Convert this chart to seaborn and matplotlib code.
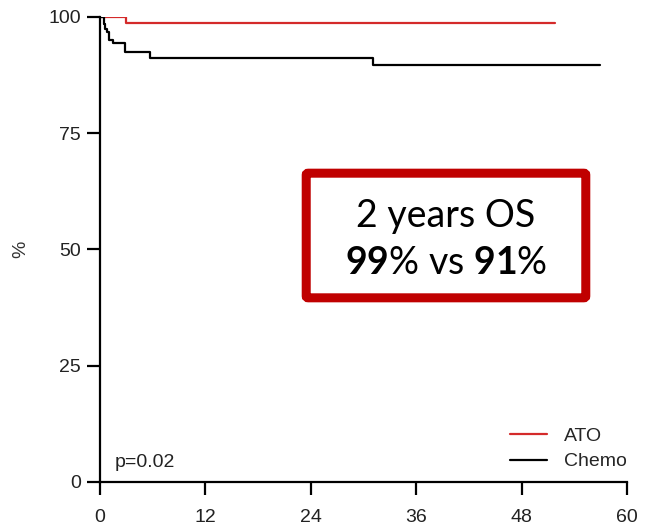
import matplotlib
matplotlib.use("Agg")
import matplotlib.pyplot as plt
import seaborn as sns
import pandas as pd
from matplotlib.patches import FancyBboxPatch

# Data
groups = ["ATO", "Chemo"]
ato_months = [0, 3.0, 51.8]
ato_surv = [100, 98.8, 98.8]
chemo_months = [0, 0.4, 0.6, 0.8, 1.0, 1.5, 2.85, 5.7, 31.1, 56.9]
chemo_surv = [100, 98.5, 97.5, 96.8, 95.1, 94.4, 92.5, 91.1, 89.7, 89.7]
x_ticks = [0, 12, 24, 36, 48, 60]
y_ticks = [0, 25, 50, 75, 100]
p_text = "p=0.02"

df = pd.concat([
    pd.DataFrame({"month": ato_months, "surv": ato_surv, "group": "ATO"}),
    pd.DataFrame({"month": chemo_months, "surv": chemo_surv, "group": "Chemo"}),
])

sns.set_theme(style="ticks")
plt.rcParams["font.family"] = ["Liberation Sans", "DejaVu Sans"]
plt.rcParams["mathtext.fontset"] = "custom"
plt.rcParams["mathtext.rm"] = "Lato"
plt.rcParams["mathtext.bf"] = "Lato:bold"

fig = plt.figure(figsize=(6.5, 5.27), dpi=100)
ax = fig.add_axes([100/650, 1-482/527, 527/650, 465/527])

palette = {"ATO": "#d42a2a", "Chemo": "#000000"}
sns.lineplot(data=df, x="month", y="surv", hue="group", hue_order=groups,
             palette=palette, drawstyle="steps-post", linewidth=1.6,
             ax=ax, legend=True)

ax.set_xlim(0, 60)
ax.set_ylim(0, 100)
ax.set_xticks(x_ticks)
ax.set_yticks(y_ticks)
ax.set_xlabel("")
ax.set_ylabel("%", fontsize=14, color="#333333", labelpad=14)
for s in ["top", "right"]:
    ax.spines[s].set_visible(False)
for s in ["left", "bottom"]:
    ax.spines[s].set_linewidth(1.6)
    ax.spines[s].set_color("black")
    ax.spines[s].set_clip_on(False)
ax.tick_params(axis="both", direction="out", length=9.5, width=1.6,
               color="black", labelsize=14, labelcolor="#222222")
ax.tick_params(axis="x", pad=10)
ax.tick_params(axis="y", pad=4)

leg = ax.legend(loc="lower right", bbox_to_anchor=(1.0, 0.025), frameon=False,
                fontsize=14, handlelength=1.9, handletextpad=0.9,
                labelspacing=0.4, borderaxespad=0.0, borderpad=0.0)
for line in leg.get_lines():
    line.set_linewidth(1.6)

ax.text(0.028, 0.043, p_text, transform=ax.transAxes, fontsize=14,
        color="#222222", ha="left", va="center")

# Annotation box
bx0, by0 = (302 - 100) / 527, (482 - 302) / 465
bw, bh = (590 - 302) / 527, (302 - 169) / 465
box = FancyBboxPatch((bx0 + 0.008, by0 + 0.009), bw - 0.016, bh - 0.018,
                     boxstyle="round,pad=0,rounding_size=0.004",
                     transform=ax.transAxes, fill=True, facecolor="white",
                     edgecolor="#c00000", linewidth=6.5, clip_on=False, zorder=5)
ax.add_patch(box)
cx = bx0 + bw / 2
ax.text(cx, (482 - 216) / 465, "2 years OS", transform=ax.transAxes,
        ha="center", va="center", fontsize=27, family=["Lato", "DejaVu Sans"],
        color="black", zorder=6)
ax.text(cx, (482 - 263) / 465,
        r"$\mathbf{99}$% vs $\mathbf{91}$%", transform=ax.transAxes,
        ha="center", va="center", fontsize=27, family=["Lato", "DejaVu Sans"],
        color="black", zorder=6)

fig.savefig("out.png", dpi=100)
